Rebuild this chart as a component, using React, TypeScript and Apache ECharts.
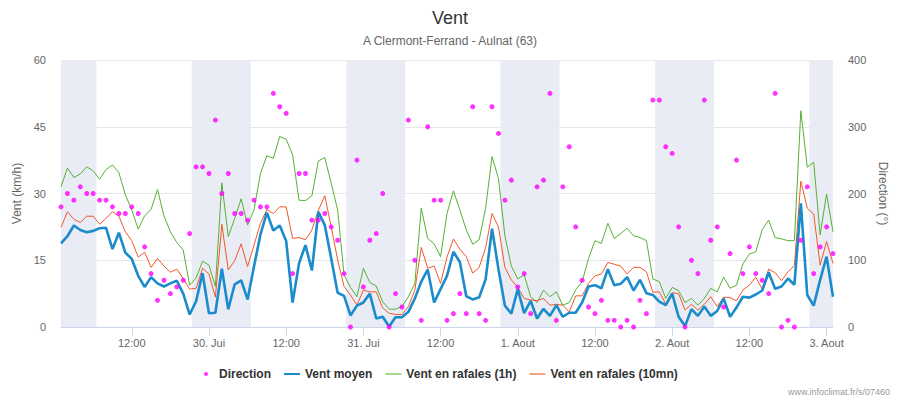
import React, { useEffect, useRef } from "react";
import * as echarts from "echarts";

// Hours since 29 Jul 00:00 (local) of the first and last hourly readings
const FIRST_HOUR = 1;
const LAST_HOUR = 121;

// Vent moyen (km/h), hourly
const ventMoyen = [
  18.8, 20.4, 22.8, 21.8, 21.3, 21.6, 22.2, 22.3, 17.5, 21.2, 16.7, 15.3, 11.5, 9.0, 11.2, 9.8, 9.1, 9.8, 10.4, 7.5,
  2.8, 5.8, 12.1, 3.1, 3.2, 13.1, 4.0, 9.6, 10.5, 6.2, 13.6, 20.8, 25.7, 21.7, 22.8, 19.3, 5.5, 14.3, 18.4, 12.7,
  25.9, 22.9, 15.4, 7.7, 7.0, 2.6, 4.8, 5.5, 7.5, 1.9, 2.3, 0.1, 2.2, 2.2, 3.4, 6.4, 10.2, 12.9, 5.5, 8.5,
  11.5, 16.9, 14.6, 6.9, 6.2, 6.7, 10.7, 22.1, 13.0, 4.8, 3.0, 8.5, 3.1, 5.9, 1.9, 4.1, 2.5, 4.9, 2.3, 3.2,
  3.2, 5.5, 9.1, 9.4, 8.7, 13.0, 9.4, 9.7, 11.2, 8.2, 10.6, 7.6, 7.2, 5.7, 4.9, 7.5, 2.3, 0.2, 4.0, 2.5,
  4.6, 2.5, 3.6, 6.4, 2.3, 4.4, 6.8, 6.6, 7.3, 8.2, 12.3, 8.6, 9.1, 10.9, 9.5, 27.8, 7.2, 4.8, 10.6, 15.8,
  6.8,
];

// Vent en rafales (1h), km/h
const rafales1h = [
  31.5, 35.7, 33.6, 34.4, 36.0, 35.1, 33.2, 35.4, 36.4, 34.7, 29.7, 26.3, 22.0, 25.0, 26.4, 30.9, 25.0, 21.4, 19.0, 17.3,
  9.4, 11.0, 14.8, 13.9, 9.1, 32.4, 20.3, 24.4, 28.8, 22.9, 26.3, 34.5, 38.5, 37.9, 42.8, 42.2, 38.7, 28.5, 28.4, 29.5,
  37.3, 38.1, 32.3, 26.3, 11.7, 8.9, 6.8, 13.2, 10.0, 9.2, 5.7, 4.0, 4.0, 4.6, 6.8, 9.8, 26.7, 19.9, 18.7, 15.8,
  25.5, 30.6, 26.3, 21.8, 18.6, 19.6, 26.7, 38.3, 33.4, 20.5, 13.7, 10.8, 11.7, 6.8, 5.5, 8.3, 6.8, 7.9, 4.9, 5.5,
  8.3, 10.2, 15.4, 19.4, 18.8, 23.3, 19.9, 21.0, 22.2, 20.5, 20.1, 19.4, 10.8, 10.2, 6.4, 8.9, 8.2, 5.5, 6.4, 4.9,
  6.4, 8.7, 7.9, 11.2, 8.7, 9.4, 14.2, 16.4, 16.9, 21.9, 24.0, 20.1, 19.8, 19.4, 19.4, 48.6, 35.9, 37.0, 20.7, 29.9,
  21.4,
];

// Vent en rafales (10mn), km/h
const rafales10mn = [
  22.4, 25.9, 24.2, 23.5, 24.9, 24.9, 23.1, 24.4, 25.9, 24.9, 21.4, 19.4, 15.7, 16.8, 13.4, 15.4, 13.7, 12.3, 13.0, 10.9,
  8.5, 8.7, 13.2, 11.9, 6.7, 23.1, 12.8, 14.9, 18.7, 13.6, 18.4, 23.3, 26.4, 25.5, 27.0, 27.0, 19.9, 20.1, 19.6, 21.8,
  26.2, 29.5, 22.5, 15.1, 9.1, 7.2, 4.9, 8.3, 7.9, 7.9, 4.3, 3.1, 2.8, 2.8, 4.6, 8.3, 17.9, 13.2, 13.7, 9.8,
  15.7, 19.8, 17.5, 15.8, 12.1, 13.4, 17.8, 25.5, 22.5, 13.4, 10.6, 8.9, 6.4, 6.1, 5.9, 6.4, 4.9, 5.1, 4.9, 3.4,
  7.0, 7.0, 9.8, 11.5, 11.9, 14.5, 14.1, 13.7, 11.9, 13.4, 13.4, 12.4, 7.8, 7.9, 5.2, 7.7, 7.5, 3.8, 5.1, 3.8,
  5.1, 6.8, 4.6, 6.7, 6.6, 5.9, 8.3, 9.4, 11.2, 8.5, 13.0, 12.2, 10.4, 12.4, 13.8, 32.8, 26.7, 25.4, 13.9, 19.2,
  14.3,
];

// Direction (degrees)
const direction = [
  180, 200, 190, 210, 200, 200, 190, 190, 180, 170, 170, 180, 170, 120, 80, 40, 70, 50, 60, 70,
  140, 240, 240, 230, 310, 200, 230, 170, 170, 160, 190, 180, 180, 350, 330, 320, 80, 230, 230, 160,
  160, 170, 150, 130, 80, 0, 250, 60, 130, 140, 200, 0, 50, 30, 310, 100, 10, 300, 190, 190,
  10, 20, 50, 20, 330, 20, 10, 330, 290, 190, 220, 60, 80, 20, 210, 220, 350, 10, 210, 270,
  150, 70, 30, 20, 40, 10, 10, 0, 10, 0, 40, 20, 340, 340, 270, 260, 150, 0, 100, 80,
  340, 130, 150, 30, 110, 250, 80, 120, 80, 70, 50, 350, 0, 10, 0, 130, 210, 80, 120, 150,
  110,
];

// x-axis ticks (hours since 29 Jul 00:00) and their labels
const tickHours = [12, 24, 36, 48, 60, 72, 84, 96, 108, 120];
const tickLabels = ["12:00", "30. Jui", "12:00", "31. Jui", "12:00", "1. Aout", "12:00", "2. Aout", "12:00", "3. Aout"];

// Night bands (hours since 29 Jul 00:00)
const nightStart = [1, 21.33, 45.33, 69.33, 93.33, 117.33];
const nightEnd = [6.5, 30.5, 54.5, 78.5, 102.5, 121];

const FONT = "'Liberation Sans', Arial, Helvetica, sans-serif";
const BLUE = "#1a8bcb";
const GREEN = "#55b131";
const ORANGE = "#f0582a";
const MAGENTA = "#ff00ff";

const DOT_ICON = "path://M0,0M16,14M6,7a2,2 0 1,0 4,0a2,2 0 1,0 -4,0Z";
const LINE_ICON = "path://M0,0M16,14M0,6h16v2h-16Z";

function pairs(values: number[]) {
  return values.map((v, i) => [FIRST_HOUR + i, v]);
}

export default function App() {
  const ref = useRef<HTMLDivElement>(null);

  useEffect(() => {
    if (!ref.current) return;
    const chart = echarts.init(ref.current, undefined, { renderer: "svg" });

    const labelByHour: Record<number, string> = {};
    tickHours.forEach((h, i) => (labelByHour[h] = tickLabels[i]));

    chart.setOption({
      animation: false,
      textStyle: { fontFamily: FONT },
      title: {
        text: "Vent",
        subtext: "A Clermont-Ferrand - Aulnat (63)",
        left: "center",
        top: 4,
        itemGap: 8,
        textStyle: { fontSize: 18, fontWeight: "normal", color: "#333333", fontFamily: FONT },
        subtextStyle: { fontSize: 12, color: "#666666", fontFamily: FONT },
      },
      legend: {
        left: 193,
        top: 362,
        itemWidth: 16,
        itemHeight: 14,
        itemGap: 13,
        textStyle: { fontSize: 12, fontWeight: "bold", color: "#333333", fontFamily: FONT },
        data: [
          { name: "Direction", icon: DOT_ICON, itemStyle: { color: MAGENTA } },
          {
            name: "Vent moyen",
            icon: LINE_ICON,
            itemStyle: { color: BLUE },
            lineStyle: { width: 2, color: BLUE },
          },
          {
            name: "Vent en rafales (1h)",
            icon: LINE_ICON,
            itemStyle: { color: "#a3d88c" },
            lineStyle: { width: 2, color: "#a3d88c" },
          },
          {
            name: "Vent en rafales (10mn)",
            icon: LINE_ICON,
            itemStyle: { color: "#f5a384" },
            lineStyle: { width: 2, color: "#f5a384" },
          },
        ],
      },
      grid: { left: 61, right: 67, top: 60, bottom: 73 },
      xAxis: {
        type: "value",
        min: FIRST_HOUR,
        max: LAST_HOUR,
        splitLine: { show: false },
        axisLine: { show: true, lineStyle: { color: "#ccd6eb", width: 1 } },
        axisTick: {
          show: true,
          customValues: tickHours,
          length: 9,
          lineStyle: { color: "#ccd6eb" },
        },
        axisLabel: {
          customValues: tickHours,
          formatter: (v: number) => labelByHour[Math.round(v)] ?? "",
          color: "#666666",
          fontSize: 11,
          margin: 10,
          fontFamily: FONT,
        },
      },
      yAxis: [
        {
          type: "value",
          min: 0,
          max: 60,
          interval: 15,
          name: "Vent (km/h)",
          nameLocation: "middle",
          nameRotate: 90,
          nameGap: 32,
          nameTextStyle: { color: "#666666", fontSize: 12, fontFamily: FONT },
          axisLine: { show: false },
          axisTick: { show: false },
          axisLabel: { color: "#666666", fontSize: 11, margin: 15, fontFamily: FONT },
          splitLine: { show: true, lineStyle: { color: "#e6e6e6", width: 1 } },
        },
        {
          type: "value",
          position: "right",
          min: 0,
          max: 400,
          interval: 100,
          name: "Direction (°)",
          nameLocation: "middle",
          nameRotate: -90,
          nameGap: 38,
          nameTextStyle: { color: "#666666", fontSize: 12, fontFamily: FONT },
          axisLine: { show: false },
          axisTick: { show: false },
          axisLabel: { color: "#666666", fontSize: 11, margin: 15, fontFamily: FONT },
          splitLine: { show: false },
        },
      ],
      series: [
        {
          name: "nuit",
          type: "line",
          z: -1,
          silent: true,
          data: pairs(ventMoyen),
          symbol: "none",
          lineStyle: { opacity: 0 },
          markArea: {
            silent: true,
            itemStyle: { color: "#e9ecf5" },
            data: nightStart.map((s, i) => [{ xAxis: s }, { xAxis: nightEnd[i] }]),
          },
        },
        {
          name: "Direction",
          type: "scatter",
          yAxisIndex: 1,
          z: 5,
          symbol: "circle",
          symbolSize: 5,
          itemStyle: { color: MAGENTA },
          data: pairs(direction),
        },
        {
          name: "Vent moyen",
          type: "line",
          z: 4,
          symbol: "none",
          lineStyle: { width: 2.6, color: BLUE },
          itemStyle: { color: BLUE },
          data: pairs(ventMoyen),
        },
        {
          name: "Vent en rafales (1h)",
          type: "line",
          z: 3,
          symbol: "none",
          lineStyle: { width: 1, color: GREEN },
          itemStyle: { color: GREEN },
          data: pairs(rafales1h),
        },
        {
          name: "Vent en rafales (10mn)",
          type: "line",
          z: 3,
          symbol: "none",
          lineStyle: { width: 1, color: ORANGE },
          itemStyle: { color: ORANGE },
          data: pairs(rafales10mn),
        },
      ],
      graphic: [
        {
          type: "text",
          right: 10,
          bottom: 4,
          style: {
            text: "www.infoclimat.fr/s/07460",
            fontSize: 9,
            fill: "#999999",
            fontFamily: FONT,
          },
        },
      ],
    });

    return () => chart.dispose();
  }, []);

  return (
    <div
      ref={ref}
      style={{ position: "fixed", left: 0, top: 0, width: 900, height: 400, background: "#ffffff" }}
    />
  );
}
